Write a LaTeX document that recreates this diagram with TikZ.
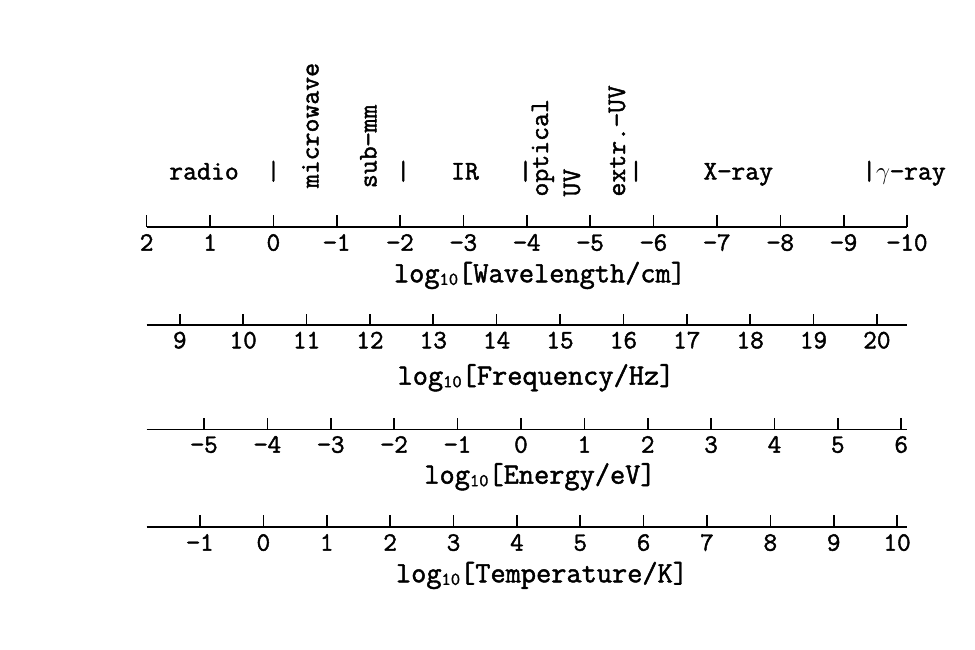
\documentclass[tikz,border=0pt]{standalone}
\usepackage{fontspec}
\setmainfont{Latin Modern Mono}[FakeBold=1.6]
\newcommand{\subten}{\raisebox{-2.5pt}{\fontsize{18}{18}\selectfont 10}}
\newcommand{\numlab}[1]{\ifnum#1<0 −\number\numexpr0-#1\relax\else#1\fi}
\tikzset{
  axisline/.style={line width=1.6pt},
  tick/.style={line width=1.6pt},
  lab/.style={inner sep=0pt, anchor=base, font=\fontsize{27}{27}\selectfont},
  vlab/.style={inner sep=0pt, anchor=base west, rotate=90, font=\fontsize{27}{27}\selectfont},
  num/.style={inner sep=0pt, anchor=base, font=\fontsize{26.5}{26.5}\selectfont},
  ttl/.style={inner sep=0pt, anchor=base, font=\fontsize{29.5}{29.5}\selectfont},
}
\begin{document}
\begin{tikzpicture}[x=1pt,y=-1pt]
\useasboundingbox (0,0) rectangle (975,650);
\def\xo{273.4}
\def\sc{63.37}
% band labels
\node[lab] (radio) at (204,179.5) {radio};
\node[lab] (b1) at (273.4,179.5) {|};
\node[vlab] (micro) at (318.5,188.3) {microwave};
\node[vlab] (submm) at (376.5,188.3) {sub−mm};
\node[lab] (b2) at (403.3,179.5) {|};
\node[lab] (ir) at (465,179.5) {IR};
\node[lab] (b3) at (525.5,179.5) {|};
\node[vlab] (opt) at (548,196.7) {optical};
\node[vlab] (uv) at (580,196.7) {UV};
\node[vlab] (euv) at (625,196.7) {extr.−UV};
\node[lab] (b4) at (636,179.5) {|};
\node[lab] (xray) at (738.3,179.5) {X−ray};
\node[lab] (gray) at (904,179.5) {|$\gamma$−ray};
% wavelength axis
\draw[axisline] (\xo+\sc*-2,226.7) -- (\xo+\sc*10,226.7);
\foreach \v [count=\i] in {2,1,0,-1,-2,-3,-4,-5,-6,-7,-8,-9,-10} {
  \pgfmathsetmacro\xx{\xo-\sc*\v}
  \draw[tick] (\xx,226.7) -- (\xx,215.2);
  \node[num] (wl\i) at (\xx,250.7) {\numlab{\v}};
}
\node[ttl] (wlt) at (540,282.3) {log\subten[Wavelength/cm]};
% frequency axis
\draw[axisline] (\xo+\sc*-2,325) -- (\xo+\sc*10,325);
\foreach \v [count=\i] in {9,...,20} {
  \pgfmathsetmacro\xx{\xo+\sc*(\v-10.4768)}
  \draw[tick] (\xx,325) -- (\xx,313.5);
  \node[num] (fr\i) at (\xx,348.3) {\v};
}
\node[ttl] (frt) at (536,384.7) {log\subten[Frequency/Hz]};
% energy axis
\draw[axisline] (\xo+\sc*-2,429.3) -- (\xo+\sc*10,429.3);
\foreach \v [count=\i] in {-5,-4,-3,-2,-1,0,1,2,3,4,5,6} {
  \pgfmathsetmacro\xx{\xo+\sc*(\v+3.9066)}
  \draw[tick] (\xx,429.3) -- (\xx,417.6);
  \node[num] (en\i) at (\xx,452.7) {\numlab{\v}};
}
\node[ttl] (ent) at (540,483.7) {log\subten[Energy/eV]};
% temperature axis
\draw[axisline] (\xo+\sc*-2,526.7) -- (\xo+\sc*10,526.7);
\foreach \v [count=\i] in {-1,0,1,2,3,4,5,6,7,8,9,10} {
  \pgfmathsetmacro\xx{\xo+\sc*(\v-0.1581)}
  \draw[tick] (\xx,526.7) -- (\xx,515.2);
  \node[num] (te\i) at (\xx,550.7) {\numlab{\v}};
}
\node[ttl] (tet) at (542,582.3) {log\subten[Temperature/K]};
\end{tikzpicture}
\end{document}
